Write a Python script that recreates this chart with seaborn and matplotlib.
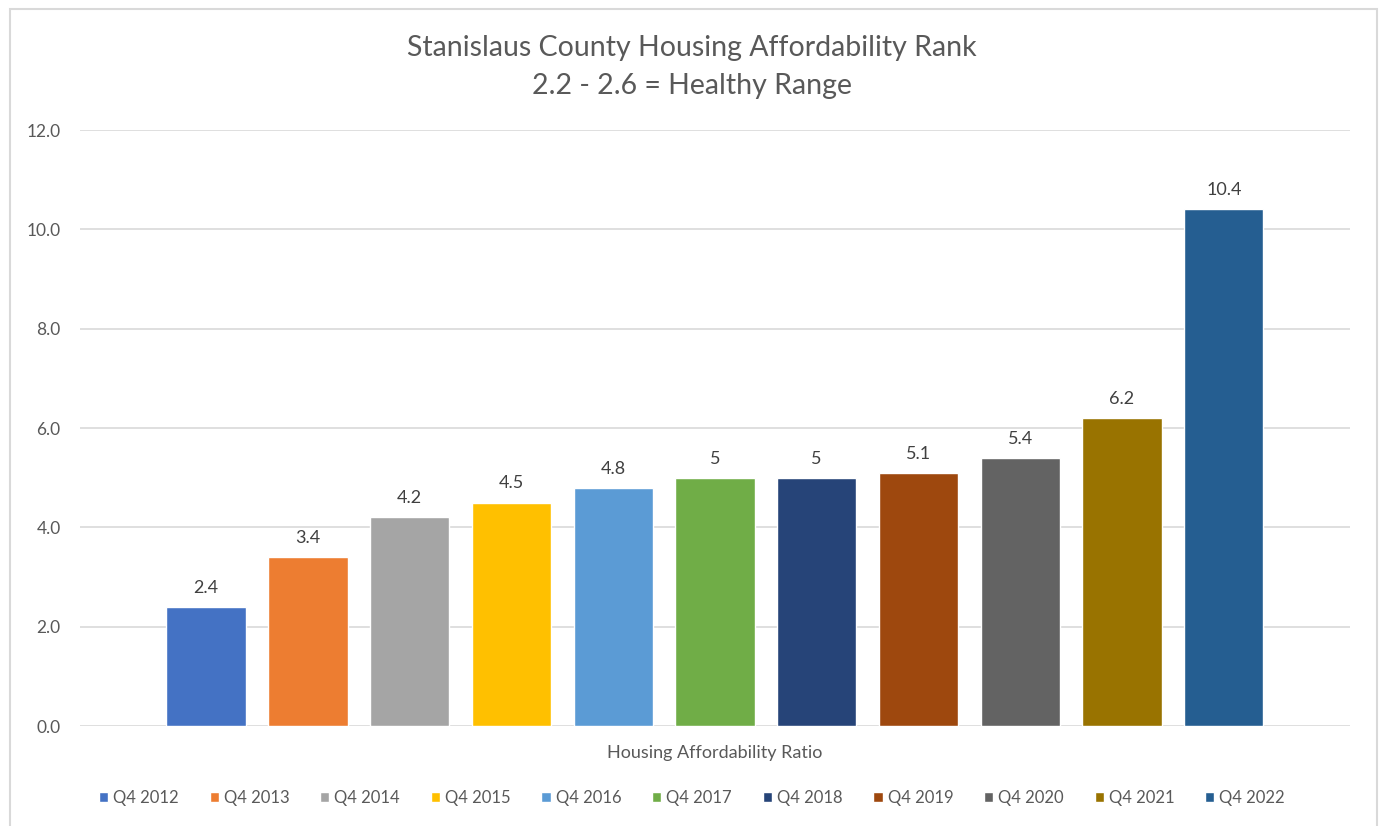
import matplotlib
matplotlib.use("Agg")
import matplotlib.pyplot as plt
import matplotlib.patches as mpatches
import seaborn as sns
import pandas as pd

# Housing affordability ratio, Q4 of each year
quarters = ["Q4 2012", "Q4 2013", "Q4 2014", "Q4 2015", "Q4 2016", "Q4 2017",
            "Q4 2018", "Q4 2019", "Q4 2020", "Q4 2021", "Q4 2022"]
ratios = [2.4, 3.4, 4.2, 4.5, 4.8, 5, 5, 5.1, 5.4, 6.2, 10.4]
bar_colors = ["#4472C4", "#ED7D31", "#A5A5A5", "#FFC000", "#5B9BD5", "#70AD47",
              "#264478", "#9E480E", "#636363", "#997300", "#255E91"]
y_ticks = [0, 2, 4, 6, 8, 10, 12]

df = pd.DataFrame({"quarter": quarters, "ratio": ratios})

sns.set_theme(style="white")
plt.rcParams["font.family"] = ["Lato", "DejaVu Sans"]

fig = plt.figure(figsize=(13.84, 8.26), dpi=100)
ax = fig.add_axes([0.0578, 0.121, 0.9176, 0.7216])

sns.barplot(data=df, x="quarter", y="ratio", hue="quarter",
            palette=bar_colors, width=0.78, dodge=False, legend=True,
            saturation=1, ax=ax, zorder=3)

ax.set_xlim(-1.24, 11.24)
ax.set_ylim(0, 12)
ax.set_yticks(y_ticks)
ax.set_yticklabels([f"{v:.1f}" for v in y_ticks], color="#595959", fontsize=12.5)
ax.set_xticks([])
ax.tick_params(axis="y", length=0, pad=14)
ax.yaxis.grid(True, color="#D9D9D9", linewidth=1.2, zorder=0)
for s in ax.spines.values():
    s.set_visible(False)
ax.set_ylabel("")
ax.set_xlabel("Housing Affordability Ratio", color="#595959", fontsize=13,
              labelpad=14)

# value labels above each bar
for i, v in enumerate(ratios):
    ax.annotate(f"{v:g}", xy=(i, v), xytext=(0, 8), textcoords="offset points",
                ha="center", va="bottom", fontsize=13, color="#404040")

# title
fig.text(0.5, 1 - 48 / 826, "Stanislaus County Housing Affordability Rank",
         ha="center", va="center", fontsize=20.5, color="#595959")
fig.text(0.5, 1 - 86 / 826, "2.2 - 2.6 = Healthy Range",
         ha="center", va="center", fontsize=20.5, color="#595959")

# legend along the bottom
sns.move_legend(ax, "center", bbox_to_anchor=(0.5, 1 - 798 / 826),
                bbox_transform=fig.transFigure, ncol=11, frameon=False,
                title=None, fontsize=12, handlelength=0.55, handleheight=0.55,
                handletextpad=0.3, columnspacing=1.85)
for t in ax.get_legend().get_texts():
    t.set_color("#595959")

# chart border
fig.patches.append(mpatches.Rectangle((10 / 1384, -0.01), 1367 / 1384, 1 - 9 / 826 + 0.01,
                                      transform=fig.transFigure, fill=False,
                                      edgecolor="#D9D9D9", linewidth=1.5))

fig.savefig("out.png", dpi=100, facecolor="white")
